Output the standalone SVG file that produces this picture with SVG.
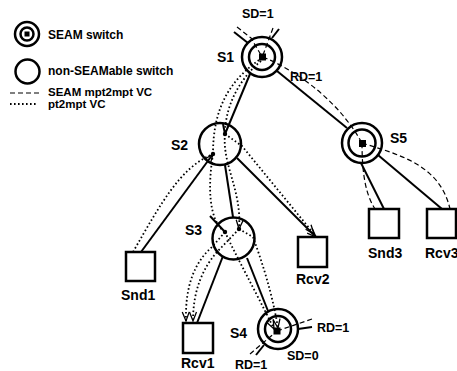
<svg xmlns="http://www.w3.org/2000/svg" width="457" height="371" viewBox="0 0 457 371">
<defs>
<style>
.sw{fill:none;stroke:#000;stroke-width:2.5}
.box{fill:none;stroke:#000;stroke-width:2.5}
.ln{fill:none;stroke:#000;stroke-width:2}
.da{fill:none;stroke:#000;stroke-width:1.2;stroke-dasharray:5 3}
.do{fill:none;stroke:#000;stroke-width:1.8;stroke-dasharray:1.6 2.4}
text{font-family:"Liberation Sans",Arial,sans-serif;font-weight:bold;fill:#000}
.lg{font-size:12px}
.lg2{font-size:11.5px}
.nl{font-size:14px}
.sm{font-size:12.5px}
</style>
<marker id="arr" markerUnits="userSpaceOnUse" markerWidth="14" markerHeight="12" viewBox="-12 -6 14 12" refX="0" refY="0" orient="auto" overflow="visible">
<path d="M-9,-3.5 L0,0 L-9,3.5" fill="none" stroke="#000" stroke-width="1.3"/>
</marker>
</defs>
<rect width="457" height="371" fill="#fff"/>

<g id="legend">
<g id="legend-seam"><circle cx="27" cy="34" r="12" class="sw"/><circle cx="27" cy="34" r="6.5" class="sw" stroke-width="2"/><rect x="24.5" y="31.5" width="5" height="5"/><text x="48" y="39" class="lg">SEAM switch</text></g>
<g id="legend-nonseam"><circle cx="27.5" cy="71.5" r="12" class="sw"/><text x="48" y="75" class="lg">non-SEAMable switch</text></g>
<g id="legend-mpt"><path d="M10,93 L40,93" class="da"/><text x="48" y="96" class="lg2">SEAM mpt2mpt VC</text></g>
<g id="legend-pt"><path d="M10,104 L36,104" class="do"/><text x="48" y="108" class="lg2">pt2mpt VC</text></g>
</g>

<g id="connectors">
<path d="M250,74 L225,134" class="ln"/>
<path d="M223,124 L225,134" class="ln" stroke-width="1.5"/>
<path d="M141,252 L213,154" class="ln" marker-end="url(#arr)"/>
<path d="M225,165 L233,217" class="ln"/>
<path d="M210,216 L225,232" class="ln" stroke-width="1.5"/>
<path d="M237,158 L316,237" class="ln" marker-end="url(#arr)"/>
<path d="M223,256 L197,323" class="ln"/>
<path d="M247,258 L268,311" class="ln"/>
<path d="M277,71 L347,128" class="ln"/>
<path d="M361,163 L384,209" class="ln"/>
<path d="M378,155 L442,209" class="ln"/>
<path d="M248,43 L234,32" class="ln"/>
<path d="M272,38 L279,29" class="ln"/>
<path d="M264,345 L256,355" class="ln"/>
<path d="M298,329 L312,327" class="ln"/>

<path d="M237,27 L251,38 L261,55" class="da"/>
<path d="M273,28 L263,55" class="da"/>
<path d="M263,57 C290,68 335,95 362,143" class="da"/>
<path d="M362,143 C362,175 366,195 375,209" class="da"/>
<path d="M362,143 C400,155 440,165 450,209" class="da"/>
<path d="M250,354 L277,331" class="da"/>
<path d="M277,331 L312,319" class="da"/>

<path d="M259,60 C228,82 213,110 213,154" class="do"/>
<path d="M261,61 C236,82 225,110 225,134" class="do"/>
<path d="M225,134 C222,165 242,190 239,229" class="do" marker-end="url(#arr)"/>
<path d="M213,154 C208,185 208,220 225,232" class="do"/>
<path d="M225,134 L242,146 L314,234" class="do" marker-end="url(#arr)"/>
<path d="M133,252 C160,205 180,168 211,155" class="do"/>
<path d="M225,232 L212,247 C195,262 185,285 186,321" class="do" marker-end="url(#arr)"/>
<path d="M239,229 L217,252 C203,268 193,290 193,321" class="do" marker-end="url(#arr)"/>
<path d="M225,232 C236,256 256,292 274,329" class="do" marker-end="url(#arr)"/>
<path d="M239,229 L253,237 C262,262 272,292 278,328" class="do" marker-end="url(#arr)"/>

<circle cx="225" cy="134" r="2.2"/>
<circle cx="213" cy="154" r="2.2"/>
<circle cx="225" cy="232" r="2.2"/>
<circle cx="239" cy="229" r="2.2"/>
</g>

<g id="S1"><circle cx="262" cy="57" r="20" class="sw"/><circle cx="262" cy="57" r="13" class="sw"/><rect x="259" y="53.5" width="7" height="7"/><text x="217" y="62" class="nl">S1</text><text x="242" y="18" class="sm">SD=1</text><text x="290" y="81" class="sm">RD=1</text></g>
<g id="S2"><circle cx="220" cy="144" r="21" class="sw"/><text x="171" y="150" class="nl">S2</text></g>
<g id="S3"><circle cx="233.5" cy="238.5" r="21" class="sw"/><text x="185" y="235" class="nl">S3</text></g>
<g id="S4"><circle cx="278" cy="329" r="20" class="sw"/><circle cx="278" cy="329" r="13" class="sw"/><rect x="273.5" y="327.5" width="7" height="7"/><text x="230" y="338" class="nl">S4</text><text x="317" y="332" class="sm">RD=1</text><text x="287" y="360" class="sm">SD=0</text><text x="235" y="369" class="sm">RD=1</text></g>
<g id="S5"><circle cx="362" cy="143" r="20" class="sw"/><circle cx="362" cy="143" r="13.5" class="sw"/><rect x="359" y="140" width="7" height="7"/><text x="390" y="143" class="nl">S5</text></g>
<g id="Snd1"><rect x="126" y="252" width="29" height="29" class="box"/><text x="121" y="300" class="nl">Snd1</text></g>
<g id="Rcv1"><rect x="183" y="323" width="30" height="30" class="box"/><text x="181" y="368" class="nl">Rcv1</text></g>
<g id="Rcv2"><rect x="298" y="237" width="29" height="30" class="box"/><text x="296" y="284" class="nl">Rcv2</text></g>
<g id="Snd3"><rect x="369" y="209" width="30" height="29" class="box"/><text x="368" y="258" class="nl">Snd3</text></g>
<g id="Rcv3"><rect x="427" y="209" width="29" height="29" class="box"/><text x="425" y="258" class="nl">Rcv3</text></g>
</svg>
